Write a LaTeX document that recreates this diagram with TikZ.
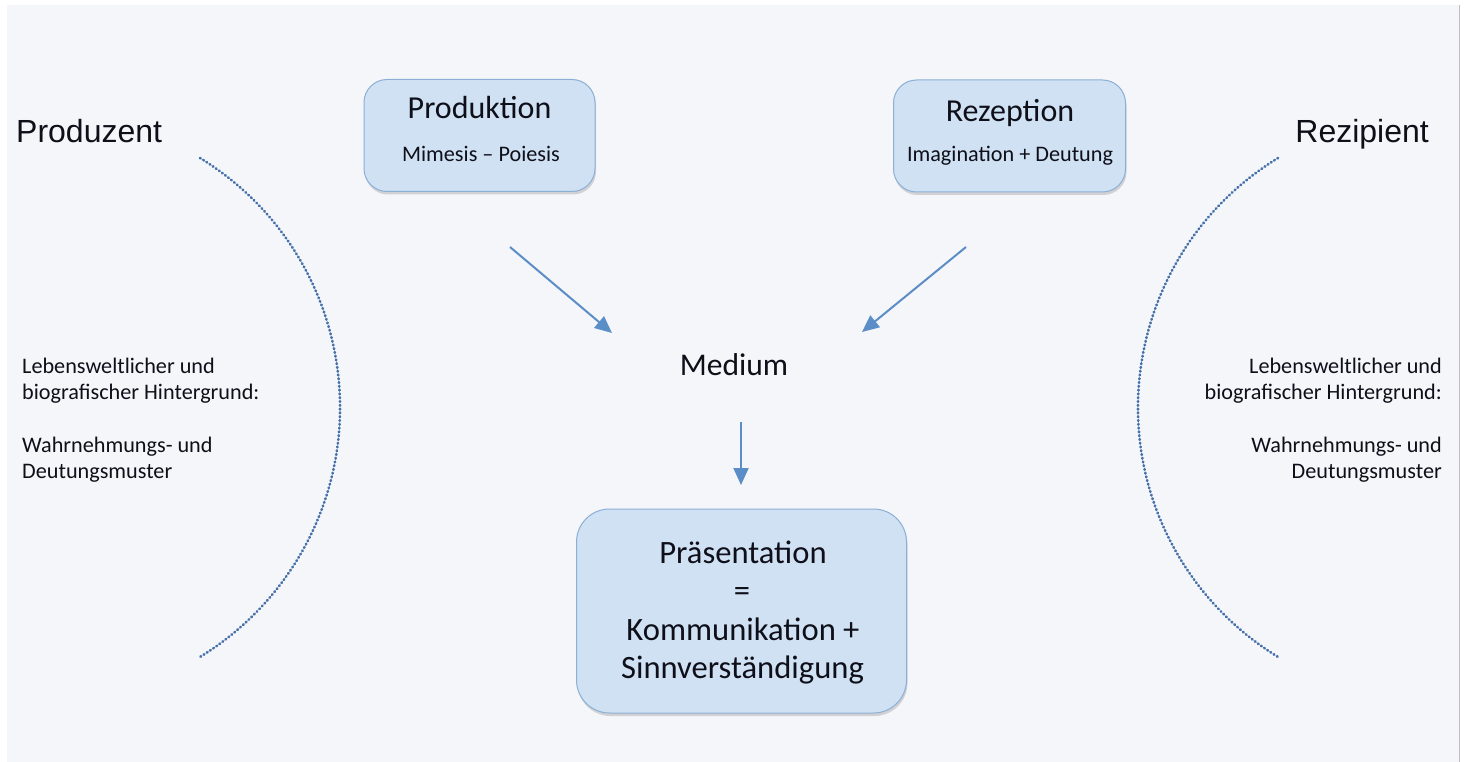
\documentclass[tikz,border=0pt]{standalone}
\usepackage{fontspec}
\setmainfont{Carlito}
\newfontfamily\arialf{Liberation Sans}
\usetikzlibrary{arrows.meta,shadows}
\definecolor{bgc}{RGB}{245,246,250}
\definecolor{boxfill}{RGB}{207,225,243}
\definecolor{boxdraw}{RGB}{140,175,214}
\definecolor{arrc}{RGB}{91,141,199}
\definecolor{dotc}{RGB}{70,112,170}
\definecolor{txt}{RGB}{15,15,25}
\tikzset{
  bluebox/.style={draw=boxdraw, fill=boxfill, line width=1pt, inner sep=0pt,
    drop shadow={shadow xshift=1pt, shadow yshift=-3pt, opacity=.25, fill=black!60}},
  boxtitle/.style={anchor=base, inner sep=0pt, text=txt, font=\fontsize{32}{36}\selectfont},
  boxsub/.style={anchor=base, inner sep=0pt, text=txt, font=\fontsize{22.2}{26}\selectfont},
  bigtxt/.style={anchor=base, inner sep=0pt, text=txt, font=\fontsize{32.6}{38}\selectfont},
  medtxt/.style={anchor=base, inner sep=0pt, text=txt, font=\fontsize{31.6}{36}\selectfont},
  roletxt/.style={inner sep=0pt, text=txt, font=\arialf\fontsize{32}{36}\selectfont},
  sidetxt/.style={inner sep=0pt, text=txt, font=\fontsize{22.2}{26}\selectfont},
  flow/.style={draw=arrc, line width=2pt, -{Triangle[length=17pt,width=15pt]}},
  dotarc/.style={draw=dotc, line width=2.6pt, line cap=round, dash pattern=on 0.8pt off 3pt}
}
\begin{document}
\begin{tikzpicture}[x=1pt,y=-1pt]
\useasboundingbox (0,0) rectangle (1466,762);
\fill[white] (0,0) rectangle (1466,762);
\fill[bgc] (7,5) rectangle (1459,762);
\draw[black!25, line width=1pt] (1459,5) -- (1459,762);

% boxes
\node[bluebox, rounded corners=23pt, minimum width=231pt, minimum height=112pt] (prod) at (479.5,135.5) {};
\node[bluebox, rounded corners=23pt, minimum width=232pt, minimum height=112pt] (rez) at (1009.5,136) {};
\node[bluebox, rounded corners=33pt, minimum width=330pt, minimum height=204pt] (praes) at (741.5,611) {};

\node[boxtitle] (prodt) at (479.5,119) {Produktion};
\node[boxsub] (prods) at (481,162) {Mimesis – Poiesis};
\node[boxtitle] (rezt) at (1010,122) {Rezeption};
\node[boxsub] (rezs) at (1010,162) {Imagination + Deutung};

\node[bigtxt] (pr1) at (743,563) {Präsentation};
\node[bigtxt] (pr2) at (742,601) {=};
\node[bigtxt] (pr3) at (743,640) {Kommunikation +};
\node[bigtxt] (pr4) at (742.5,678) {Sinnverständigung};

\node[medtxt] (med) at (734,375) {Medium};

% roles
\node[roletxt, anchor=base west] (produzent) at (16,143) {Produzent};
\node[roletxt, anchor=base east] (rezipient) at (1429,143) {Rezipient};

% side texts
\node[sidetxt, anchor=base west] (l1) at (22,373) {Lebensweltlicher und};
\node[sidetxt, anchor=base west] (l2) at (22,399) {biografischer Hintergrund:};
\node[sidetxt, anchor=base west] (l3) at (22,452) {Wahrnehmungs- und};
\node[sidetxt, anchor=base west] (l4) at (22,478) {Deutungsmuster};
\node[sidetxt, anchor=base east] (r1) at (1442,373) {Lebensweltlicher und};
\node[sidetxt, anchor=base east] (r2) at (1442,399) {biografischer Hintergrund:};
\node[sidetxt, anchor=base east] (r3) at (1442,452) {Wahrnehmungs- und};
\node[sidetxt, anchor=base east] (r4) at (1442,478) {Deutungsmuster};

% arrows
\coordinate (a1s) at (510,247);
\coordinate (a1e) at (612,333);
\coordinate (a2s) at (966,247);
\coordinate (a2e) at (862,332);
\coordinate (a3s) at (741,422);
\coordinate (a3e) at (741,485);
\draw[flow] (a1s) -- (a1e);
\draw[flow] (a2s) -- (a2e);
\draw[flow] (a3s) -- (a3e);

% dotted arcs
\coordinate (arcL) at (200,158);
\coordinate (arcR) at (1278,158);
\draw[dotarc] (arcL) arc[start angle=-58.6, end angle=58.6, radius=292.3];
\draw[dotarc] (arcR) arc[start angle=238.6, end angle=121.4, radius=292.3];
\end{tikzpicture}
\end{document}
